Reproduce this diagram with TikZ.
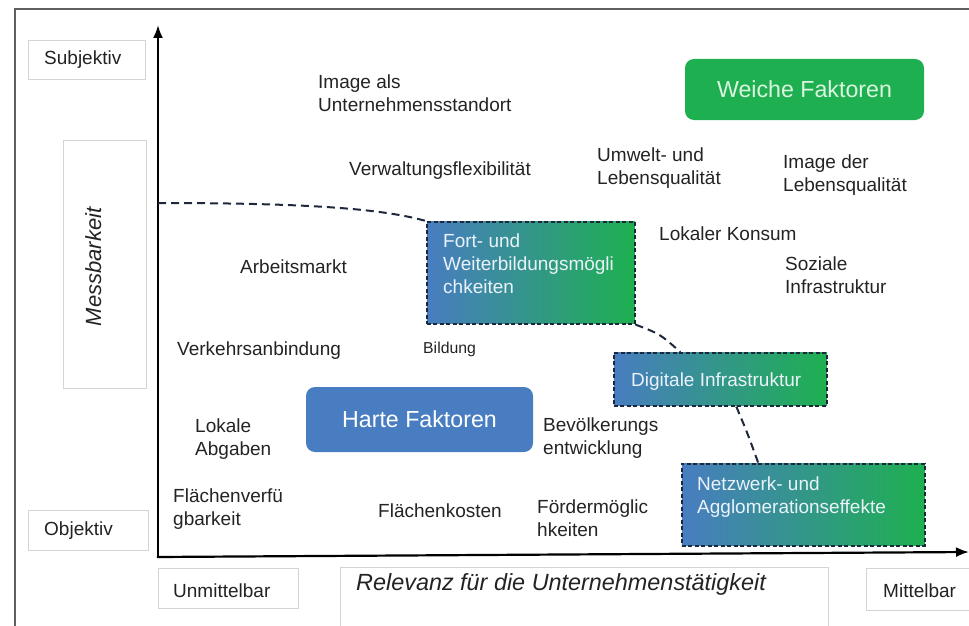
\documentclass[tikz,border=0pt]{standalone}
\usepackage{fontspec}
\setmainfont{Liberation Sans}
\usetikzlibrary{arrows.meta}
\definecolor{hartblue}{RGB}{72,125,193}
\definecolor{weichgreen}{RGB}{30,176,80}
\definecolor{dashnavy}{RGB}{30,40,60}
\definecolor{txtcol}{RGB}{35,35,35}
\definecolor{framegray}{RGB}{95,95,95}
\definecolor{lightbox}{RGB}{212,212,212}
\definecolor{boxtext}{RGB}{235,242,250}
\definecolor{weichtext}{RGB}{220,245,225}
\begin{document}
\begin{tikzpicture}[x=1pt,y=-1pt,
  txt/.style={inner sep=0pt, anchor=base west, align=left, text=txtcol, font=\fontsize{19}{23}\selectfont},
  wtxt/.style={txt, text=boxtext},
  graybox/.style={draw=lightbox, line width=1pt, inner sep=0pt, anchor=north west},
  gradbox/.style={draw=dashnavy, dash pattern=on 4pt off 2.5pt, line width=1.6pt, left color=hartblue, right color=weichgreen, inner sep=0pt, anchor=north west},
  bigbox/.style={rounded corners=9pt, inner sep=0pt, font=\fontsize{23.2}{27}\selectfont},
  axis/.style={line width=2.2pt, draw=black, -{Latex[length=13pt,width=10pt]}},
  link/.style={line width=2pt, dash pattern=on 8pt off 5pt, draw=dashnavy}
]
\useasboundingbox (0,0) rectangle (969,626);
% outer frame (cropped)
\draw[framegray, line width=2.5pt] (15,640) -- (15,9) -- (985,9);

% axis label boxes
\node[graybox, minimum width=117pt, minimum height=39pt] (subjbox) at (28,40) {};
\node[txt] (subj) at (44,64) {Subjektiv};
\node[graybox, minimum width=83pt, minimum height=248pt] (messbox) at (63,140) {};
\node[inner sep=0pt, anchor=base, rotate=90, text=txtcol, font=\fontsize{22}{26}\selectfont\itshape] (mess) at (101,267) {Messbarkeit};
\node[graybox, minimum width=120pt, minimum height=40pt] (objbox) at (28,510) {};
\node[txt] (obj) at (44,535) {Objektiv};
\node[graybox, minimum width=140pt, minimum height=40pt] (unmbox) at (158,568) {};
\node[txt] (unm) at (173,597) {Unmittelbar};
\node[graybox, minimum width=488pt, minimum height=80pt] (relbox) at (340,567) {};
\node[txt, font=\fontsize{23.4}{27}\selectfont\itshape] (rel) at (356,590) {Relevanz für die Unternehmenstätigkeit};
\node[graybox, minimum width=120pt, minimum height=42pt] (mitbox) at (866,568) {};
\node[txt] (mit) at (883,597) {Mittelbar};

% axes
\coordinate (origin) at (158,557);
\coordinate (ytop) at (158,25);
\coordinate (xend) at (969,552);
\draw[axis] (origin) -- (ytop);
\draw[axis] ([xshift=-1.1pt]origin) -- (xend);

% category boxes
\node[bigbox, fill=weichgreen, text=weichtext, minimum width=239pt, minimum height=61pt] (weich) at (804.5,89.5) {Weiche Faktoren};
\node[bigbox, fill=hartblue, text=white, minimum width=227pt, minimum height=65pt] (hart) at (419.5,419.5) {Harte Faktoren};

% gradient boxes
\node[gradbox, minimum width=208pt, minimum height=102pt] (fortbox) at (426,221) {};
\node[wtxt] (fort) at (443,293) {Fort- und\\Weiterbildungsmögli\\chkeiten};
\node[gradbox, minimum width=213pt, minimum height=53pt] (digibox) at (613,352) {};
\node[wtxt] (digi) at (631,386) {Digitale Infrastruktur};
\node[gradbox, minimum width=243pt, minimum height=82pt] (netbox) at (681,463) {};
\node[wtxt] (net) at (697,513) {Netzwerk- und\\Agglomerationseffekte};

% factor labels (anchor = baseline of last line)
\node[txt] (image) at (318,111) {Image als\\Unternehmensstandort};
\node[txt] (verw) at (349,175) {Verwaltungsflexibilität};
\node[txt] (umwelt) at (597,184) {Umwelt- und\\Lebensqualität};
\node[txt] (imageleb) at (783,191) {Image der\\Lebensqualität};
\node[txt] (konsum) at (659,240) {Lokaler Konsum};
\node[txt] (sozial) at (785,293) {Soziale\\Infrastruktur};
\node[txt] (arbeit) at (240,273) {Arbeitsmarkt};
\node[txt] (verkehr) at (177,355) {Verkehrsanbindung};
\node[txt, font=\fontsize{15.8}{19}\selectfont] (bildung) at (423,353) {Bildung};
\node[txt] (abgaben) at (195,455) {Lokale\\Abgaben};
\node[txt] (bev) at (543,454) {Bevölkerungs\\entwicklung};
\node[txt] (flverf) at (173,525) {Flächenverfü\\gbarkeit};
\node[txt] (flkost) at (378,517) {Flächenkosten};
\node[txt] (foerder) at (537,536) {Fördermöglic\\hkeiten};

% dashed boundary
\coordinate (linkstart) at (158,203);
\draw[link] (linkstart) .. controls (300,203) and (380,208) .. (fortbox.north west);
\draw[link] (fortbox.south east) .. controls (660,334) .. ([xshift=-40pt]digibox.north);
\draw[link] ([xshift=16pt]digibox.south) .. controls (747,432) .. ([xshift=-45pt]netbox.north);
\end{tikzpicture}
\end{document}
